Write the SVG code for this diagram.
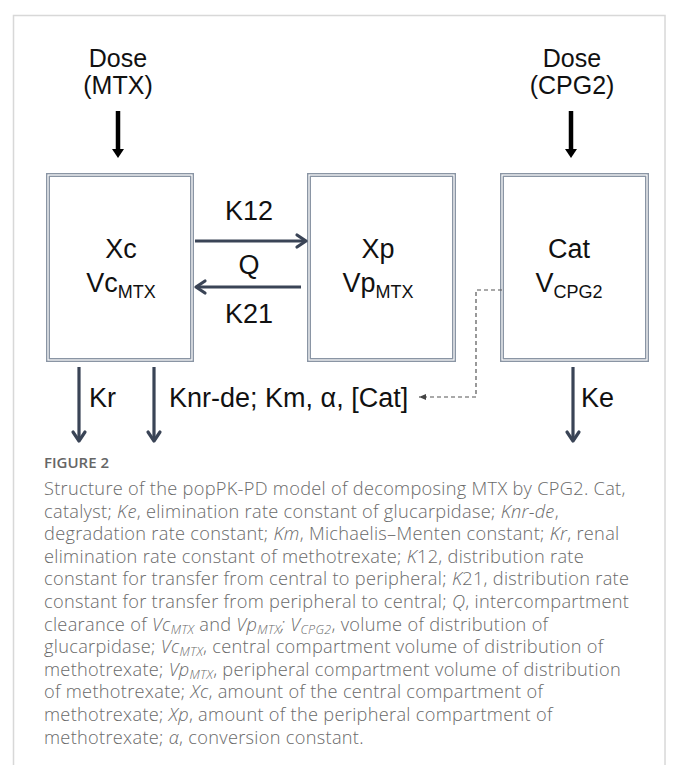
<svg xmlns="http://www.w3.org/2000/svg" width="678" height="765" viewBox="0 0 678 765">
<style>
.lbl{font-family:"Liberation Sans",Arial,sans-serif;font-size:27px;fill:#111}
.dose{font-family:"Liberation Sans",Arial,sans-serif;font-size:25px;fill:#111;text-anchor:middle}
.sub{font-size:18px}
.box{fill:#fff;stroke:#8a95a4;stroke-width:4}
.boxin{fill:none;stroke:#fff;stroke-width:1.2}
.flow{stroke:#3a4456;stroke-width:3.2;fill:none}
.head{stroke:#3a4456;stroke-width:3.2;fill:none;stroke-linecap:round;stroke-linejoin:round}
.cap{font-family:"Open Sans","Noto Sans",sans-serif;font-size:18.2px;letter-spacing:0.3px;font-weight:300;fill:#6a6a6a}
.fig{font-family:"Open Sans","Noto Sans",sans-serif;font-size:15px;font-weight:600;fill:#666}
.it{font-style:italic}
.cs{font-size:12.5px}
</style>
<defs>
<marker id="dashHead" markerWidth="8" markerHeight="8" refX="7" refY="4" orient="auto" markerUnits="userSpaceOnUse">
<path d="M0,1 L7,4 L0,7 Z" fill="#444"/>
</marker>
</defs>
<rect x="13.5" y="15.5" width="651.5" height="800" fill="#fff" stroke="#d8d8d8" stroke-width="1.5"/>

<g id="dose-mtx">
<text class="dose" x="118" y="67">Dose</text>
<text class="dose" x="118" y="94">(MTX)</text>
</g>
<g id="dose-cpg2">
<text class="dose" x="572" y="67">Dose</text>
<text class="dose" x="572" y="94">(CPG2)</text>
</g>

<g id="central">
<rect class="box" x="48" y="175" width="144" height="185"/>
<rect class="boxin" x="48" y="175" width="144" height="185"/>
<text class="lbl" x="121" y="258" text-anchor="middle">Xc</text>
<text class="lbl" x="121" y="292" text-anchor="middle">Vc<tspan class="sub" dy="6">MTX</tspan></text>
</g>
<g id="peripheral">
<rect class="box" x="309" y="175" width="145" height="185"/>
<rect class="boxin" x="309" y="175" width="145" height="185"/>
<text class="lbl" x="378" y="258" text-anchor="middle">Xp</text>
<text class="lbl" x="378" y="292" text-anchor="middle">Vp<tspan class="sub" dy="6">MTX</tspan></text>
</g>
<g id="catalyst">
<rect class="box" x="502" y="175" width="145" height="185"/>
<rect class="boxin" x="502" y="175" width="145" height="185"/>
<text class="lbl" x="569" y="258" text-anchor="middle">Cat</text>
<text class="lbl" x="569" y="292" text-anchor="middle">V<tspan class="sub" dy="6">CPG2</tspan></text>
</g>

<g id="connectors">
<line x1="118" y1="111" x2="118" y2="151" stroke="#000" stroke-width="4.5"/>
<path d="M112,149 L124,149 L118,158 Z" fill="#000"/>
<line x1="571" y1="111" x2="571" y2="151" stroke="#000" stroke-width="4.5"/>
<path d="M565,149 L577,149 L571,158 Z" fill="#000"/>
<line class="flow" x1="195" y1="241" x2="305" y2="241"/>
<path class="head" d="M297,235 L306,241 L297,247"/>
<line class="flow" x1="301" y1="287" x2="197" y2="287"/>
<path class="head" d="M205,281 L196,287 L205,293"/>
<line class="flow" x1="79" y1="367" x2="79" y2="440"/>
<path class="head" d="M73,432 L79,441 L85,432"/>
<line class="flow" x1="154" y1="367" x2="154" y2="440"/>
<path class="head" d="M148,432 L154,441 L160,432"/>
<line class="flow" x1="573" y1="367" x2="573" y2="440"/>
<path class="head" d="M567,432 L573,441 L579,432"/>
<path d="M502,290 H476 V397 H419" fill="none" stroke="#555" stroke-width="1.2" stroke-dasharray="4,3" marker-end="url(#dashHead)"/>
</g>

<g id="labels">
<text class="lbl" x="249" y="220" text-anchor="middle">K12</text>
<text class="lbl" x="249" y="274" text-anchor="middle">Q</text>
<text class="lbl" x="249" y="323" text-anchor="middle">K21</text>
<text class="lbl" x="89" y="407">Kr</text>
<text class="lbl" x="169" y="407">Knr-de; Km, α, [Cat]</text>
<text class="lbl" x="581" y="407">Ke</text>
</g>

<g id="caption">
<text class="fig" x="44" y="468">FIGURE 2</text>
<text class="cap" x="44" y="495">Structure of the popPK-PD model of decomposing MTX by CPG2. Cat,</text>
<text class="cap" x="44" y="517.6">catalyst; <tspan class="it">Ke</tspan>, elimination rate constant of glucarpidase; <tspan class="it">Knr-de</tspan>,</text>
<text class="cap" x="44" y="540.2">degradation rate constant; <tspan class="it">Km</tspan>, Michaelis–Menten constant; <tspan class="it">Kr</tspan>, renal</text>
<text class="cap" x="44" y="562.8">elimination rate constant of methotrexate; <tspan class="it">K</tspan>12, distribution rate</text>
<text class="cap" x="44" y="585.4">constant for transfer from central to peripheral; <tspan class="it">K</tspan>21, distribution rate</text>
<text class="cap" x="44" y="608">constant for transfer from peripheral to central; <tspan class="it">Q</tspan>, intercompartment</text>
<text class="cap" x="44" y="630.6">clearance of <tspan class="it">Vc<tspan class="cs" dy="3">MTX</tspan></tspan><tspan dy="-3"> and </tspan><tspan class="it">Vp<tspan class="cs" dy="3">MTX</tspan><tspan dy="-3">; V</tspan><tspan class="cs" dy="3">CPG2</tspan></tspan><tspan dy="-3">, volume of distribution of</tspan></text>
<text class="cap" x="44" y="653.2">glucarpidase; <tspan class="it">Vc<tspan class="cs" dy="3">MTX</tspan></tspan><tspan dy="-3">, central compartment volume of distribution of</tspan></text>
<text class="cap" x="44" y="675.8">methotrexate; <tspan class="it">Vp<tspan class="cs" dy="3">MTX</tspan></tspan><tspan dy="-3">, peripheral compartment volume of distribution</tspan></text>
<text class="cap" x="44" y="698.4">of methotrexate; <tspan class="it">Xc</tspan>, amount of the central compartment of</text>
<text class="cap" x="44" y="721">methotrexate; <tspan class="it">Xp</tspan>, amount of the peripheral compartment of</text>
<text class="cap" x="44" y="743.6">methotrexate; <tspan class="it">α</tspan>, conversion constant.</text>
</g>
</svg>
